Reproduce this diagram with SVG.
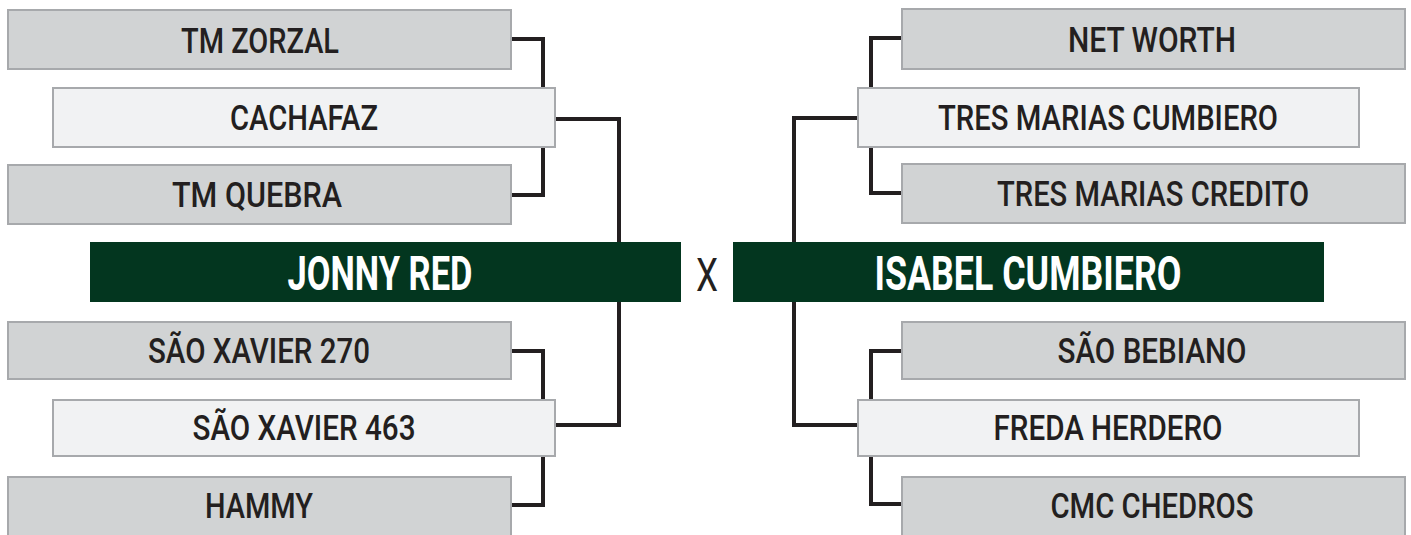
<svg xmlns="http://www.w3.org/2000/svg" width="1411" height="535" viewBox="0 0 1411 535">
<style>
.g{fill:#d1d3d4;stroke:#a7a9ac;stroke-width:2}
.w{fill:#f1f2f3;stroke:#a7a9ac;stroke-width:2}
.bar{fill:#03361f}
.t{font-family:Roboto,"Liberation Sans",sans-serif;font-weight:500;font-size:35px;fill:#231f20;text-anchor:middle}
.bt{font-family:Roboto,"Liberation Sans",sans-serif;font-weight:700;font-size:48px;fill:#ffffff;text-anchor:middle}
.x{font-family:Roboto,"Liberation Sans",sans-serif;font-weight:400;font-size:47px;fill:#231f20;text-anchor:middle}
.c{fill:none;stroke:#231f20;stroke-width:4;stroke-linejoin:miter;stroke-linecap:butt}
</style>
<g id="connectors">
<polyline class="c" points="512,39 543,39 543,88"/>
<polyline class="c" points="543,147 543,195 512,195"/>
<polyline class="c" points="556,119 619,119 619,243"/>
<polyline class="c" points="619,301 619,425 556,425"/>
<polyline class="c" points="512,351 543,351 543,400"/>
<polyline class="c" points="543,456 543,505 512,505"/>
<polyline class="c" points="901,38 871,38 871,88"/>
<polyline class="c" points="871,147 871,193 901,193"/>
<polyline class="c" points="857,118 794,118 794,243"/>
<polyline class="c" points="794,301 794,425 857,425"/>
<polyline class="c" points="901,351 871,351 871,400"/>
<polyline class="c" points="871,456 871,504 901,504"/>
</g>
<g id="tm-zorzal"><rect class="g" x="8" y="10" width="503" height="59"/><text class="t" x="260" y="53" textLength="158" lengthAdjust="spacingAndGlyphs">TM ZORZAL</text></g>
<g id="cachafaz"><rect class="w" x="53" y="88" width="502" height="59"/><text class="t" x="304" y="130" textLength="148" lengthAdjust="spacingAndGlyphs">CACHAFAZ</text></g>
<g id="tm-quebra"><rect class="g" x="8" y="165" width="503" height="59"/><text class="t" x="257" y="207" textLength="170" lengthAdjust="spacingAndGlyphs">TM QUEBRA</text></g>
<g id="jonny-red"><rect class="bar" x="90" y="242" width="591" height="60"/><text class="bt" x="380" y="290" textLength="185" lengthAdjust="spacingAndGlyphs">JONNY RED</text></g>
<g id="versus"><text class="x" x="707" y="291" textLength="22" lengthAdjust="spacingAndGlyphs">X</text></g>
<g id="isabel-cumbiero"><rect class="bar" x="733" y="242" width="591" height="60"/><text class="bt" x="1028" y="290" textLength="307" lengthAdjust="spacingAndGlyphs">ISABEL CUMBIERO</text></g>
<g id="sao-xavier-270"><rect class="g" x="8" y="322" width="503" height="57"/><text class="t" x="259" y="363" textLength="222" lengthAdjust="spacingAndGlyphs">SÃO XAVIER 270</text></g>
<g id="sao-xavier-463"><rect class="w" x="53" y="400" width="502" height="56"/><text class="t" x="304" y="440" textLength="223" lengthAdjust="spacingAndGlyphs">SÃO XAVIER 463</text></g>
<g id="hammy"><rect class="g" x="8" y="477" width="503" height="70"/><text class="t" x="259" y="518" textLength="108" lengthAdjust="spacingAndGlyphs">HAMMY</text></g>
<g id="net-worth"><rect class="g" x="902" y="9" width="503" height="60"/><text class="t" x="1152" y="52" textLength="168" lengthAdjust="spacingAndGlyphs">NET WORTH</text></g>
<g id="tres-marias-cumbiero"><rect class="w" x="858" y="88" width="501" height="59"/><text class="t" x="1108" y="130" textLength="340" lengthAdjust="spacingAndGlyphs">TRES MARIAS CUMBIERO</text></g>
<g id="tres-marias-credito"><rect class="g" x="902" y="164" width="503" height="59"/><text class="t" x="1153" y="206" textLength="312" lengthAdjust="spacingAndGlyphs">TRES MARIAS CREDITO</text></g>
<g id="sao-bebiano"><rect class="g" x="902" y="322" width="503" height="57"/><text class="t" x="1152" y="363" textLength="189" lengthAdjust="spacingAndGlyphs">SÃO BEBIANO</text></g>
<g id="freda-herdero"><rect class="w" x="858" y="400" width="501" height="56"/><text class="t" x="1108" y="440" textLength="229" lengthAdjust="spacingAndGlyphs">FREDA HERDERO</text></g>
<g id="cmc-chedros"><rect class="g" x="902" y="477" width="503" height="70"/><text class="t" x="1152" y="518" textLength="203" lengthAdjust="spacingAndGlyphs">CMC CHEDROS</text></g>
</svg>
